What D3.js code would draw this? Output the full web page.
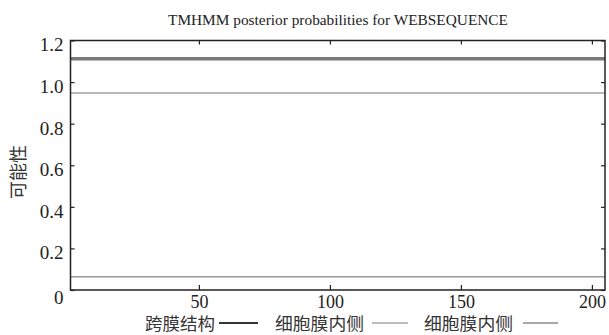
<!DOCTYPE html>
<html>
<head>
<meta charset="utf-8">
<script src="https://cdn.jsdelivr.net/npm/d3@7"></script>
<style>
	body { margin: 0; background: #fff; }
	svg { display: block; }
</style>
</head>
<body>
<div id="visual"></div>
<script>
// data
var positions = [1, 205];
var tmValues = [1.112, 1.112];
var insideValues = [0.948, 0.948];
var outsideValues = [0.064, 0.064];
var seriesNames = ["跨膜结构", "细胞膜内侧", "细胞膜内侧"];
var xTicks = [50, 100, 150, 200];
var yTicks = [0, 0.2, 0.4, 0.6, 0.8, 1.0, 1.2];
var yTickLabels = ["0", "0.2", "0.4", "0.6", "0.8", "1.0", "1.2"];

var W = 609, H = 335;
var plotL = 70.5, plotR = 605, plotT = 40.5, plotB = 290;

var svg = d3.select("#visual")
	.append("svg")
	.attr("width", W)
	.attr("height", H);

var x = d3.scaleLinear()
	.domain([1, 205])
	.range([plotL, plotR]);
var y = d3.scaleLinear()
	.domain([0, 1.2])
	.range([plotB, plotT]);

// plot background
svg.append("rect")
	.attr("x", plotL)
	.attr("y", plotT)
	.attr("width", plotR - plotL)
	.attr("height", plotB - plotT)
	.style("fill", "#fefefe");

// title
svg.append("text")
	.attr("x", 338)
	.attr("y", 25)
	.attr("text-anchor", "middle")
	.attr("textLength", 340)
	.attr("lengthAdjust", "spacingAndGlyphs")
	.style("font-family", "'Liberation Serif', serif")
	.style("font-size", "14.5px")
	.style("fill", "#222")
	.text("TMHMM posterior probabilities for WEBSEQUENCE");

var line = d3.line()
	.x(function(d) { return x(d[0]); })
	.y(function(d) { return y(d[1]); });

function pairs(vals) {
	return positions.map(function(p, i) { return [p, vals[i]]; });
}

var series = [
	{ name: seriesNames[0], vals: tmValues, color: "#7a7a7a", width: 3.5, legendColor: "#333" },
	{ name: seriesNames[1], vals: insideValues, color: "#a0a0a0", width: 1.5, legendColor: "#bdbdbd" },
	{ name: seriesNames[2], vals: outsideValues, color: "#9a9a9a", width: 1.5, legendColor: "#a8a8a8" }
];

series.forEach(function(s) {
	svg.append("path")
		.datum(pairs(s.vals))
		.attr("d", line)
		.style("fill", "none")
		.style("stroke", s.color)
		.style("stroke-width", s.width);
});

// axes, ticks pointing inward on all four sides
var tickFont = "'Liberation Serif', serif";
var xAxisB = svg.append("g")
	.attr("transform", "translate(0," + plotB + ")")
	.call(d3.axisBottom(x).tickValues(xTicks).tickSizeInner(-5).tickSizeOuter(0).tickPadding(12));
var xAxisT = svg.append("g")
	.attr("transform", "translate(0," + plotT + ")")
	.call(d3.axisTop(x).tickValues(xTicks).tickSizeInner(-4).tickSizeOuter(0).tickFormat(""));
var yAxisL = svg.append("g")
	.attr("transform", "translate(" + plotL + ",0)")
	.call(d3.axisLeft(y).tickValues(yTicks).tickSizeInner(-4).tickSizeOuter(0).tickPadding(7)
		.tickFormat(function(d, i) { return yTickLabels[i]; }));
var yAxisR = svg.append("g")
	.attr("transform", "translate(" + plotR + ",0)")
	.call(d3.axisRight(y).tickValues(yTicks).tickSizeInner(-4).tickSizeOuter(0).tickFormat(""));

[xAxisB, xAxisT, yAxisL, yAxisR].forEach(function(a) {
	a.select(".domain").remove();
	a.selectAll("line").style("stroke", "#222").style("stroke-width", 1.2);
	a.selectAll("text")
		.style("font-family", tickFont)
		.style("font-size", "19px")
		.style("fill", "#222");
});
yAxisL.selectAll("text").attr("dy", "0.55em");
yAxisL.selectAll(".tick").filter(function(d) { return d === 0; }).select("text").attr("dy", "0.7em");
xAxisB.selectAll("text").style("font-size", "18px").attr("dy", "0.35em");

// frame
svg.append("rect")
	.attr("x", plotL)
	.attr("y", plotT)
	.attr("width", plotR - plotL)
	.attr("height", plotB - plotT)
	.style("fill", "none")
	.style("stroke", "#222")
	.style("stroke-width", 1.5);

// y label
svg.append("text")
	.attr("transform", "translate(25,172) rotate(-90)")
	.attr("text-anchor", "middle")
	.style("font-family", "'Noto Sans CJK SC', sans-serif")
	.style("font-size", "18px")
	.style("fill", "#333")
	.text("可能性");

// legend
var legendX = [145, 275, 424];
var legendLineX = [[219, 258], [372, 408], [523, 558]];
series.forEach(function(s, i) {
	svg.append("text")
		.attr("x", legendX[i])
		.attr("y", 330)
		.attr("textLength", i === 0 ? 70 : 89)
		.attr("lengthAdjust", "spacingAndGlyphs")
		.style("font-family", "'Noto Sans CJK SC', sans-serif")
		.style("font-size", "16.5px")
		.style("fill", "#333")
		.text(s.name);
	svg.append("line")
		.attr("x1", legendLineX[i][0])
		.attr("x2", legendLineX[i][1])
		.attr("y1", 323)
		.attr("y2", 323)
		.style("stroke", s.legendColor)
		.style("stroke-width", 1.8);
});
</script>
</body>
</html>
